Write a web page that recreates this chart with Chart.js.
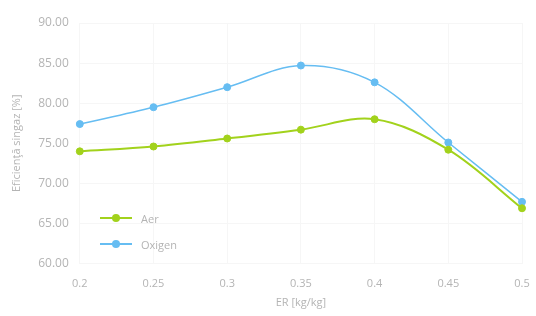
<!DOCTYPE html>
<html>
<head>
<meta charset="utf-8">
<script src="https://cdn.jsdelivr.net/npm/chart.js@4"></script>
<style>
    html, body { margin: 0; padding: 0; background: #fff; }
    #wrap { position: relative; width: 536px; height: 316px; }
    #legend { position: absolute; left: 100px; top: 205px; font-family: "Open Sans", sans-serif; font-size: 11px; color: #b4b4b4; }
    #legend div { height: 26px; display: flex; align-items: center; }
    #legend span.sw { position: relative; display: inline-block; width: 32px; height: 2px; margin-right: 9px; }
    #legend span.sw i { position: absolute; left: 12px; top: -3px; width: 8px; height: 8px; border-radius: 50%; }
</style>
</head>
<body>
<div id="wrap">
    <canvas id="chart" width="536" height="316"></canvas>
    <div id="legend"></div>
</div>
<script>
// --- Données ---
const categories = ['0.2', '0.25', '0.3', '0.35', '0.4', '0.45', '0.5'];
const aerValues = [74.0, 74.6, 75.6, 76.7, 78.0, 74.2, 66.9];
const oxigenValues = [77.4, 79.5, 82.0, 84.7, 82.6, 75.1, 67.7];
const yTicks = [60, 65, 70, 75, 80, 85, 90];

const green = '#a2d21c';
const blue = '#66bdf2';
const textColor = '#b4b4b4';

document.addEventListener("DOMContentLoaded", function () {
    const ctx = document.getElementById('chart');
    const chart = new Chart(ctx, {
        type: 'line',
        data: {
            labels: categories,
            datasets: [
                {
                    label: 'Aer',
                    data: aerValues,
                    borderColor: green,
                    backgroundColor: green,
                    borderWidth: 2,
                    pointRadius: 3.5,
                    pointBorderWidth: 1,
                    tension: 0.35
                },
                {
                    label: 'Oxigen',
                    data: oxigenValues,
                    borderColor: blue,
                    backgroundColor: blue,
                    borderWidth: 1.5,
                    pointRadius: 3.5,
                    pointBorderWidth: 1,
                    tension: 0.35
                }
            ]
        },
        options: {
            responsive: false,
            animation: false,
            layout: { padding: { top: 23, right: 14, left: 6, bottom: 7 } },
            plugins: {
                legend: { display: false },
                tooltip: { enabled: false }
            },
            scales: {
                x: {
                    offset: false,
                    afterFit: s => { s.paddingRight = 0; },
                    grid: { color: '#f6f6f6', drawTicks: false },
                    border: { display: false },
                    ticks: { color: textColor, padding: 14, font: { family: 'Open Sans', size: 11 } },
                    title: { display: true, text: 'ER [kg/kg]', color: textColor, padding: { top: -9, bottom: 0 }, font: { family: 'Open Sans', size: 11 } }
                },
                y: {
                    min: 60,
                    max: 90,
                    afterBuildTicks: axis => { axis.ticks = yTicks.map(v => ({ value: v })); },
                    grid: { color: '#f6f6f6', drawTicks: false },
                    border: { display: false },
                    ticks: {
                        color: textColor,
                        padding: 11,
                        font: { family: 'Open Sans', size: 12 },
                        callback: v => v.toFixed(2)
                    },
                    title: { display: true, text: 'Eficienţă singaz [%]', color: textColor, padding: { bottom: 4 }, font: { family: 'Open Sans', size: 11 } }
                }
            }
        }
    });

    // --- Légende dans la zone du graphique ---
    const legend = document.getElementById('legend');
    chart.data.datasets.forEach(ds => {
        const row = document.createElement('div');
        row.innerHTML = '<span class="sw" style="background:' + ds.borderColor + '"><i style="background:' + ds.borderColor + '"></i></span>' + ds.label;
        legend.appendChild(row);
    });
});
</script>
</body>
</html>
